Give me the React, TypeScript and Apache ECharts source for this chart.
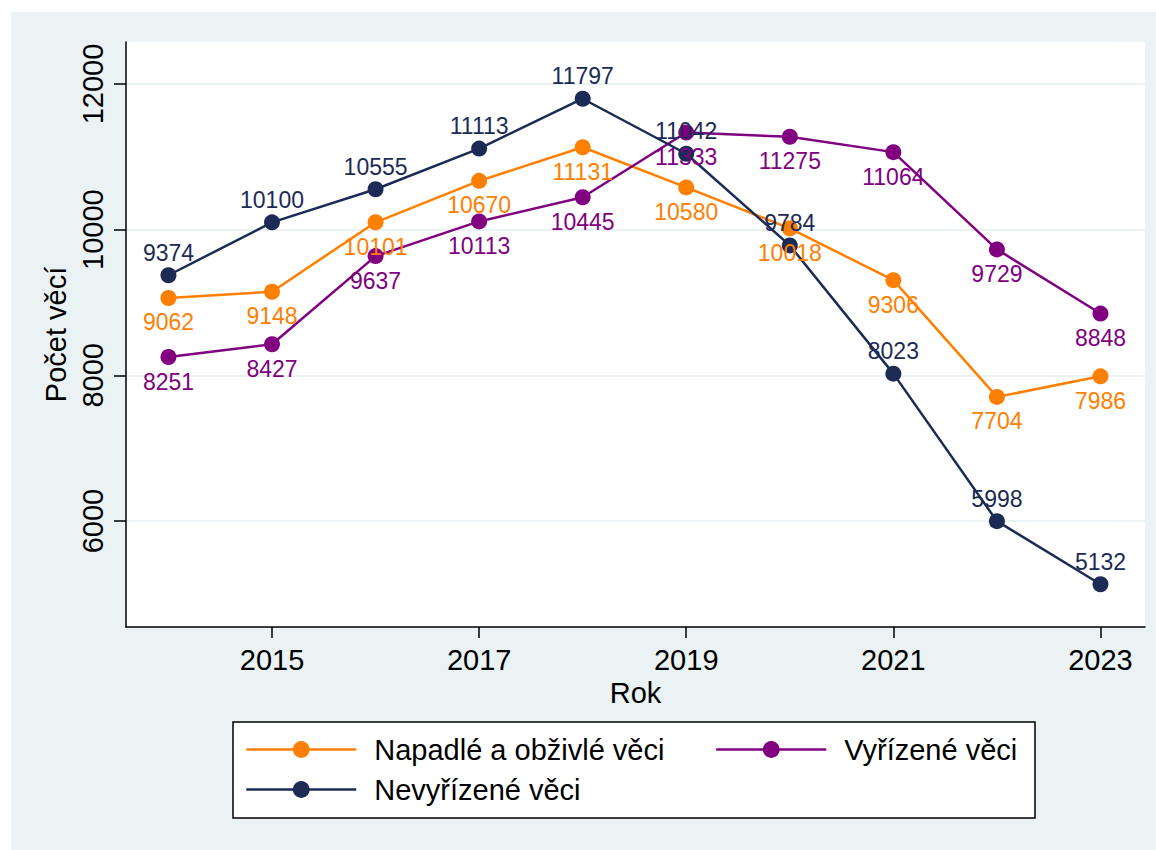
import React, { useEffect, useRef } from "react";
import * as echarts from "echarts";

const years = [2014, 2015, 2016, 2017, 2018, 2019, 2020, 2021, 2022, 2023];
const napadle = [9062, 9148, 10101, 10670, 11131, 10580, 10018, 9306, 7704, 7986];
const vyrizene = [8251, 8427, 9637, 10113, 10445, 11333, 11275, 11064, 9729, 8848];
const nevyrizene = [9374, 10100, 10555, 11113, 11797, 11042, 9784, 8023, 5998, 5132];
const xTicks = [2015, 2017, 2019, 2021, 2023];
const yTicks = [6000, 8000, 10000, 12000];

const names = ["Napadlé a obživlé věci", "Vyřízené věci", "Nevyřízené věci"];
const colors = ["#FF7F00", "#800080", "#1C2B55"];
const FONT = "Liberation Sans, Arial, sans-serif";

export default function App() {
  const ref = useRef<HTMLDivElement>(null);
  useEffect(() => {
    if (!ref.current) return;
    const chart = echarts.init(ref.current, undefined, { renderer: "svg" });
    const mk = (name: string, vals: number[], color: string, pos: "top" | "bottom") => ({
      name,
      type: "line",
      data: years.map((y, i) => [y, vals[i]]),
      symbol: "circle",
      symbolSize: 16,
      lineStyle: { color, width: 2.5 },
      itemStyle: { color },
      label: {
        show: true,
        position: pos,
        distance: pos === "top" ? 3 : 5,
        color,
        fontSize: 23,
        fontFamily: FONT,
      },
    });
    const legendCommon = {
      orient: "vertical",
      top: 735,
      padding: 0,
      itemGap: 11,
      itemWidth: 110,
      itemHeight: 21,
      selectedMode: false,
      lineStyle: { width: 2.5 },
      textStyle: { fontSize: 29, color: "#000", fontFamily: FONT, padding: [0, 0, 0, 13] },
    };
    chart.setOption({
      animation: false,
      backgroundColor: "#EAF2F3",
      textStyle: { fontFamily: FONT },
      graphic: [
        { type: "rect", shape: { x: 0, y: 0, width: 1156, height: 12 }, style: { fill: "#fff" }, silent: true },
        { type: "rect", shape: { x: 0, y: 0, width: 11, height: 850 }, style: { fill: "#fff" }, silent: true },
        {
          type: "rect",
          shape: { x: 233, y: 722, width: 802, height: 96 },
          style: { fill: "#fff", stroke: "#000", lineWidth: 1.5 },
          silent: true,
        },
      ],
      grid: {
        left: 126,
        right: 11,
        top: 42,
        bottom: 223,
        show: true,
        backgroundColor: "#fff",
        borderWidth: 0,
        outerBoundsMode: "none",
      },
      xAxis: {
        type: "value",
        min: 2013.59,
        max: 2023.43,
        name: "Rok",
        nameLocation: "middle",
        nameGap: 48,
        nameTextStyle: { fontSize: 29, color: "#000", fontFamily: FONT },
        axisLine: { show: true, lineStyle: { color: "#000", width: 1.5 } },
        axisTick: { show: true, length: 11, customValues: xTicks, lineStyle: { color: "#000", width: 1.5 } },
        axisLabel: {
          customValues: xTicks,
          fontSize: 29,
          color: "#000",
          margin: 18,
          fontFamily: FONT,
          formatter: (v: number) => String(v),
        },
        splitLine: { show: false },
      },
      yAxis: {
        type: "value",
        min: 4545,
        max: 12576,
        name: "Počet věcí",
        nameLocation: "middle",
        nameGap: 50,
        nameTextStyle: { fontSize: 29, color: "#000", fontFamily: FONT },
        axisLine: { show: true, lineStyle: { color: "#000", width: 1.5 } },
        axisTick: { show: true, length: 12, customValues: yTicks, lineStyle: { color: "#000", width: 1.5 } },
        axisLabel: {
          customValues: yTicks,
          rotate: 90,
          fontSize: 29,
          color: "#000",
          margin: 19,
          fontFamily: FONT,
          formatter: (v: number) => String(v),
        },
        splitLine: { show: true, lineStyle: { color: "#EAF2F3", width: 2 } },
      },
      legend: [
        { ...legendCommon, data: [names[0], names[2]], left: 245 },
        { ...legendCommon, data: [names[1]], left: 715 },
      ],
      series: [
        mk(names[0], napadle, colors[0], "bottom"),
        mk(names[1], vyrizene, colors[1], "bottom"),
        mk(names[2], nevyrizene, colors[2], "top"),
      ],
    });
    return () => chart.dispose();
  }, []);
  return (
    <div
      ref={ref}
      style={{ position: "fixed", left: 0, top: 0, width: 1156, height: 850 }}
    />
  );
}
